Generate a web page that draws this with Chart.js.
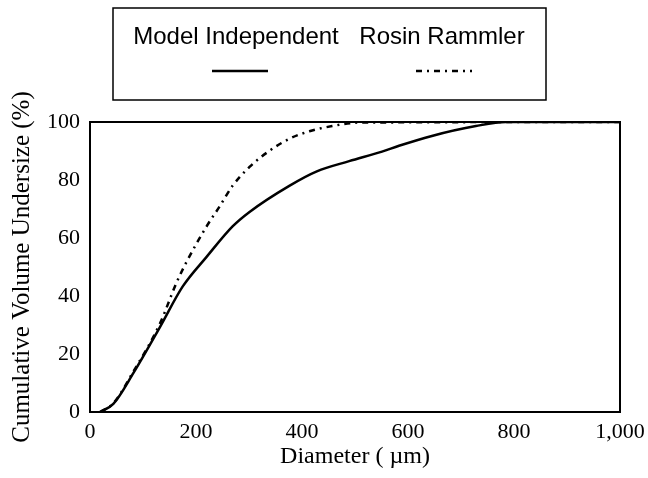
<!DOCTYPE html>
<html>
<head>
<meta charset="utf-8">
<script src="https://cdn.jsdelivr.net/npm/chart.js@4.4.1/dist/chart.umd.min.js"></script>
<style>
  html, body { margin: 0; padding: 0; background: #fff; }
  #wrap { width: 648px; height: 478px; }
</style>
</head>
<body>
<div id="wrap"><canvas id="psd-chart"></canvas></div>
<script>
// Datos
var seriesNames = ['Model Independent', 'Rosin Rammler'];

var modelX = [19, 44, 82, 132, 175, 220, 269, 301, 376, 428, 489, 551, 583, 645, 728, 785, 1000];
var modelY = [0, 2.8, 13.5, 29.3, 43.3, 53.5, 64, 69, 78, 83, 86.5, 89.8, 91.8, 95.2, 98.6, 100, 100];

var rosinX = [19, 44, 82, 132, 163, 182, 220, 245, 269, 301, 338, 376, 414, 457, 508, 1000];
var rosinY = [0, 3, 14, 30.5, 44.5, 51.7, 64, 71, 78, 84.5, 90, 94.2, 96.8, 98.6, 99.8, 100];

var xTicks = [0, 200, 400, 600, 800, 1000];
var yTicks = [0, 20, 40, 60, 80, 100];

function toPoints(xs, ys) {
    return xs.map(function (x, i) { return { x: x, y: ys[i] }; });
}

var serif = '"Liberation Serif", "Times New Roman", serif';

// Caja del gráfico y leyenda con el texto encima de la muestra de línea
var frameAndLegend = {
    id: 'frameAndLegend',
    afterDatasetsDraw: function (chart) {
        var ctx = chart.ctx;
        var a = chart.chartArea;
        ctx.save();
        ctx.strokeStyle = '#000';
        ctx.lineWidth = 2;
        ctx.strokeRect(a.left, a.top, a.right - a.left, a.bottom - a.top);

        // leyenda
        ctx.lineWidth = 1.5;
        ctx.strokeRect(113, 8, 433, 92);
        ctx.fillStyle = '#000';
        ctx.font = '24px "Liberation Sans", Arial, sans-serif';
        ctx.textAlign = 'center';
        ctx.textBaseline = 'middle';
        var centers = [236, 442];
        var lineMid = [240, 444];
        chart.data.datasets.forEach(function (ds, i) {
            ctx.fillText(ds.label, centers[i], 37);
            ctx.beginPath();
            ctx.lineWidth = ds.borderWidth;
            ctx.setLineDash(ds.borderDash || []);
            ctx.moveTo(lineMid[i] - 28, 71);
            ctx.lineTo(lineMid[i] + 28, 71);
            ctx.stroke();
        });
        ctx.restore();
    }
};

var ctx = document.getElementById('psd-chart').getContext('2d');
var psdChart = new Chart(ctx, {
    type: 'line',
    data: {
        datasets: [{
            label: seriesNames[0],
            data: toPoints(modelX, modelY),
            borderColor: '#000',
            borderWidth: 2.5,
            pointRadius: 0,
            fill: false,
            cubicInterpolationMode: 'monotone'
        }, {
            label: seriesNames[1],
            data: toPoints(rosinX, rosinY),
            borderColor: '#000',
            borderWidth: 2.5,
            borderDash: [6, 5, 2, 5],
            pointRadius: 0,
            fill: false,
            cubicInterpolationMode: 'monotone'
        }]
    },
    options: {
        responsive: true,
        maintainAspectRatio: false,
        animation: false,
        layout: { padding: { top: 122, right: 28, left: 0, bottom: 0 } },
        plugins: {
            legend: { display: false },
            tooltip: { enabled: false }
        },
        scales: {
            x: {
                type: 'linear',
                min: 0,
                max: 1000,
                afterBuildTicks: function (axis) {
                    axis.ticks = xTicks.map(function (v) { return { value: v }; });
                },
                afterFit: function (axis) {
                    axis.height = 66;
                    axis.paddingLeft = 0;
                    axis.paddingRight = 0;
                },
                grid: { display: false, drawTicks: false },
                border: { display: true, color: '#000', width: 2 },
                ticks: {
                    color: '#000',
                    font: { family: serif, size: 22 },
                    padding: 7,
                    maxRotation: 0,
                    callback: function (v) { return v.toLocaleString('en-US'); }
                },
                title: {
                    display: true,
                    text: 'Diameter ( µm)',
                    color: '#000',
                    font: { family: serif, size: 24 },
                    padding: { top: 0, bottom: 7 }
                }
            },
            y: {
                min: 0,
                max: 100,
                afterBuildTicks: function (axis) {
                    axis.ticks = yTicks.map(function (v) { return { value: v }; });
                },
                afterFit: function (axis) { axis.width = 90; },
                grid: { display: false, drawTicks: false },
                border: { display: true, color: '#000', width: 2 },
                ticks: {
                    color: '#000',
                    font: { family: serif, size: 22 },
                    padding: 10
                },
                title: {
                    display: true,
                    text: 'Cumulative Volume Undersize (%)',
                    color: '#000',
                    font: { family: serif, size: 25 },
                    padding: { top: 7, bottom: 0 }
                }
            }
        }
    },
    plugins: [frameAndLegend]
});
</script>
</body>
</html>
